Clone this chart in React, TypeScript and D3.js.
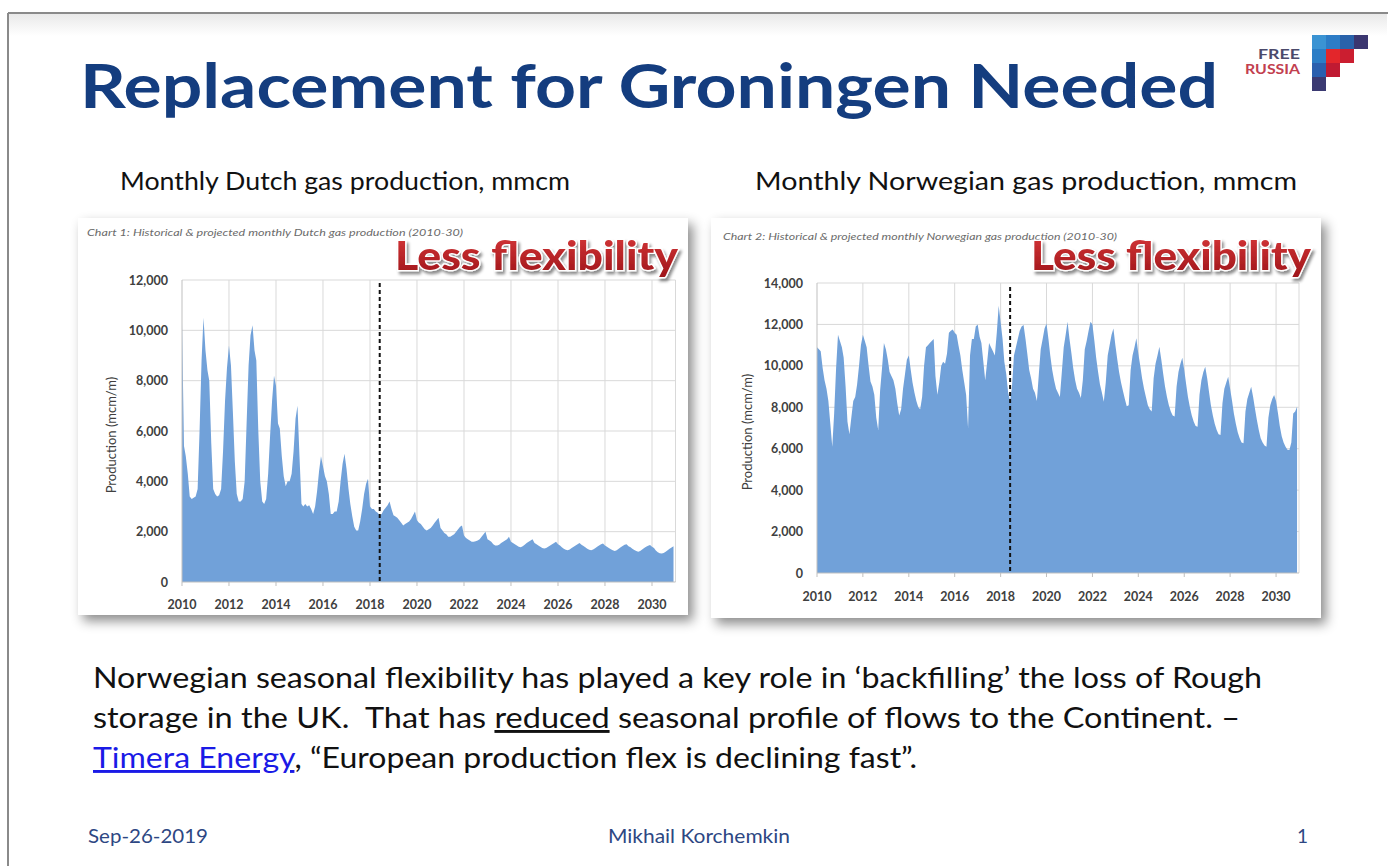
import React, { useEffect } from 'react';
import * as d3 from 'd3';

// ---------- DATA ----------
const START_YEAR = 2010;
const xTickYears = [2010, 2012, 2014, 2016, 2018, 2020, 2022, 2024, 2026, 2028, 2030];
const dutchYTicks = [0, 2000, 4000, 6000, 8000, 10000, 12000];
const norwegianYTicks = [0, 2000, 4000, 6000, 8000, 10000, 12000, 14000];
const forecastStart = { year: 2018, month: 5 }; // June 2018 (0-based month)

// Monthly Dutch gas production, mcm/m, Jan 2010 .. Dec 2030
const dutchMonthly = [
  10300, 5400, 5000, 4300, 3400, 3300, 3350, 3400, 3700, 6000, 8800, 10500, // 2010
  9200, 8400, 8000, 5500, 3700, 3500, 3400, 3450, 3700, 5200, 7200, 8500, // 2011
  9400, 8600, 6800, 4800, 3500, 3200, 3200, 3300, 4000, 6300, 8600, 9800, // 2012
  10200, 9200, 8800, 6000, 4000, 3200, 3100, 3300, 4300, 5800, 7200, 8200, // 2013
  7800, 6300, 6100, 5000, 4200, 3800, 4000, 4000, 4300, 5200, 6500, 7000, // 2014
  5000, 3100, 3000, 3100, 3000, 3050, 2900, 2700, 3000, 3600, 4400, 5000, // 2015
  4600, 4200, 4000, 3500, 2700, 2700, 2800, 2800, 3200, 4000, 4700, 5100, // 2016
  4500, 3700, 3100, 2600, 2200, 2050, 2050, 2400, 2900, 3500, 3900, 4100, // 2017
  3000, 2900, 2900, 2800, 2750, 2650, 2700, 2850, 2950, 3050, 3200, 2900, // 2018
  2650, 2600, 2550, 2450, 2350, 2250, 2300, 2350, 2400, 2500, 2650, 2800, // 2019
  2450, 2350, 2300, 2200, 2100, 2050, 2100, 2150, 2250, 2350, 2450, 2550, // 2020
  2150, 2050, 1950, 1900, 1800, 1800, 1850, 1900, 2000, 2100, 2200, 2250, // 2021
  1850, 1750, 1700, 1650, 1600, 1600, 1620, 1650, 1700, 1800, 1900, 2000, // 2022
  1700, 1650, 1600, 1500, 1450, 1450, 1480, 1550, 1600, 1650, 1700, 1800, // 2023
  1600, 1550, 1500, 1450, 1400, 1380, 1420, 1480, 1550, 1600, 1650, 1700, // 2024
  1550, 1500, 1450, 1400, 1350, 1330, 1350, 1400, 1450, 1500, 1550, 1600, // 2025
  1500, 1450, 1380, 1320, 1280, 1260, 1290, 1350, 1400, 1450, 1500, 1550, // 2026
  1480, 1430, 1380, 1320, 1280, 1260, 1290, 1340, 1400, 1450, 1500, 1530, // 2027
  1450, 1400, 1350, 1300, 1260, 1230, 1260, 1320, 1380, 1430, 1480, 1500, // 2028
  1420, 1380, 1320, 1270, 1230, 1200, 1230, 1290, 1350, 1400, 1440, 1470, // 2029
  1400, 1350, 1250, 1180, 1140, 1130, 1150, 1200, 1260, 1320, 1370, 1420, // 2030
];

// Monthly Norwegian gas production, mcm/m, Jan 2010 .. Dec 2030
const norwegianMonthly = [
  10900, 10800, 10700, 9900, 9300, 8900, 8300, 7200, 6100, 7700, 9900, 11500, // 2010
  11200, 10900, 10400, 9000, 7300, 6700, 7500, 8300, 8500, 9100, 10000, 11000, // 2011
  11500, 11200, 10900, 10000, 9250, 9000, 8600, 7500, 6900, 8800, 9900, 11100, // 2012
  10800, 10300, 9700, 9500, 9300, 8900, 8200, 7600, 7900, 8900, 9600, 10300, // 2013
  10500, 9800, 9200, 8700, 8300, 8000, 7900, 8500, 10000, 10900, 11000, 11100, // 2014
  11200, 11300, 9500, 8600, 9200, 10000, 10200, 10100, 10600, 11600, 11700, 11750, // 2015
  11600, 11500, 11000, 10500, 9800, 9200, 8600, 7000, 10500, 11300, 11300, 11900, // 2016
  12000, 11400, 11100, 10200, 9300, 10200, 11100, 10900, 10700, 10500, 11600, 12900, // 2017
  12100, 11300, 10200, 9600, 8700, 8300, 9000, 10500, 10900, 11300, 11700, 11900, // 2018
  11970, 11300, 10600, 9800, 9400, 8900, 8700, 8300, 9600, 10800, 11300, 11800, // 2019
  12050, 11300, 10500, 9800, 9300, 8900, 8700, 8500, 9700, 10900, 11500, 12130, // 2020
  11300, 10600, 9900, 9300, 8900, 8700, 8450, 9300, 10800, 11200, 11700, 12130, // 2021
  12000, 11200, 10400, 9700, 9100, 8700, 8270, 9200, 10500, 11000, 11500, 11800, // 2022
  11000, 10300, 9700, 9200, 8800, 8400, 8050, 8100, 9800, 10500, 10900, 11330, // 2023
  10600, 10000, 9400, 8900, 8500, 8100, 7900, 7800, 9400, 10100, 10500, 10920, // 2024
  10300, 9600, 9000, 8500, 8100, 7800, 7600, 7550, 9000, 9700, 10100, 10390, // 2025
  9800, 9100, 8500, 8000, 7600, 7300, 7100, 7060, 8600, 9300, 9700, 9960, // 2026
  9400, 8700, 8100, 7600, 7200, 6900, 6700, 6660, 8200, 8900, 9200, 9480, // 2027
  8900, 8300, 7700, 7200, 6800, 6500, 6300, 6260, 7800, 8400, 8700, 8990, // 2028
  8500, 7900, 7400, 6900, 6500, 6300, 6150, 6100, 7500, 8100, 8400, 8590, // 2029
  8300, 7700, 7100, 6600, 6300, 6100, 5950, 5940, 6300, 7700, 7800, 8030, // 2030
];

const titleText = 'Replacement for Groningen Needed';
const dutchSubtitle = 'Monthly Dutch gas production, mmcm';
const norSubtitle = 'Monthly Norwegian gas production, mmcm';
const dutchCaption = 'Chart 1: Historical & projected monthly Dutch gas production (2010-30)';
const norCaption = 'Chart 2: Historical & projected monthly Norwegian gas production (2010-30)';
const stampText = 'Less flexibility';
const yAxisTitle = 'Production (mcm/m)';

// ---------- HELPERS ----------
type Pt = { date: Date; v: number };
const toMonthly = (vals: number[]): Pt[] =>
  vals.map((v, i) => ({ date: new Date(START_YEAR + Math.floor(i / 12), i % 12, 1), v }));

const FONT = 'Lato, "Open Sans", sans-serif';
const fmt = d3.format(',');

interface ChartProps {
  card: { x: number; y: number; w: number; h: number };
  plot: { x0: number; x1: number; yTop: number; yBottom: number };
  values: number[];
  yTicks: number[];
  caption: string;
  captionPos: { x: number; y: number; len: number };
  stamp: { x: number; y: number; len: number };
  axisTitleX: number;
  xLabelY: number;
  dashTop: number;
}

function GasChart(p: ChartProps) {
  const { plot } = p;
  const x = d3
    .scaleTime()
    .domain([new Date(2010, 0, 1), new Date(2031, 0, 1)])
    .range([plot.x0, plot.x1]);
  const yMax = p.yTicks[p.yTicks.length - 1];
  const y = d3.scaleLinear().domain([0, yMax]).range([plot.yBottom, plot.yTop]);
  const data = toMonthly(p.values);
  const area = d3
    .area<Pt>()
    .x((d) => x(d.date))
    .y0(y(0))
    .y1((d) => y(d.v));
  const fx = x(new Date(forecastStart.year, forecastStart.month, 1));
  const gridColor = '#d9d9d9';
  return (
    <g>
      <rect x={p.card.x} y={p.card.y} width={p.card.w} height={p.card.h} fill="#fff" filter="url(#cardShadow)" />
      <text
        x={p.captionPos.x}
        y={p.captionPos.y}
        fontFamily={FONT}
        fontStyle="italic"
        fontSize={10}
        fill="#6b6b6b"
        textLength={p.captionPos.len}
        lengthAdjust="spacingAndGlyphs"
      >
        {p.caption}
      </text>
      {p.yTicks.slice(1).map((t) => (
        <line key={'h' + t} x1={plot.x0} x2={plot.x1} y1={y(t)} y2={y(t)} stroke={gridColor} strokeWidth={1} />
      ))}
      {xTickYears.slice(1).map((yr) => (
        <line
          key={'v' + yr}
          x1={x(new Date(yr, 0, 1))}
          x2={x(new Date(yr, 0, 1))}
          y1={plot.yTop}
          y2={plot.yBottom}
          stroke={gridColor}
          strokeWidth={1}
        />
      ))}
      <line x1={plot.x1} x2={plot.x1} y1={plot.yTop} y2={plot.yBottom} stroke={gridColor} strokeWidth={1} />
      <path d={area(data) || ''} fill="#71a1d9" />
      <line x1={plot.x0} x2={plot.x0} y1={plot.yTop} y2={plot.yBottom} stroke="#bfbfbf" strokeWidth={1} />
      <line x1={plot.x0} x2={plot.x1} y1={plot.yBottom} y2={plot.yBottom} stroke="#bfbfbf" strokeWidth={1} />
      {xTickYears.map((yr) => (
        <line
          key={'t' + yr}
          x1={x(new Date(yr, 0, 1))}
          x2={x(new Date(yr, 0, 1))}
          y1={plot.yBottom}
          y2={plot.yBottom + 4}
          stroke="#bfbfbf"
        />
      ))}
      <line x1={fx} x2={fx} y1={p.dashTop} y2={plot.yBottom} stroke="#111" strokeWidth={2} strokeDasharray="4,3" />
      {p.yTicks.map((t) => (
        <text
          key={'yl' + t}
          x={plot.x0 - 14}
          y={y(t) + 4.5}
          textAnchor="end"
          fontFamily={FONT}
          fontWeight={700}
          fontSize={12.5}
          fill="#404040"
        >
          {fmt(t)}
        </text>
      ))}
      {xTickYears.map((yr) => (
        <text
          key={'xl' + yr}
          x={x(new Date(yr, 0, 1))}
          y={p.xLabelY}
          textAnchor="middle"
          fontFamily={FONT}
          fontWeight={700}
          fontSize={12.5}
          fill="#404040"
        >
          {yr}
        </text>
      ))}
      <text
        transform={`translate(${p.axisTitleX},${(plot.yTop + plot.yBottom) / 2 + 4}) rotate(-90)`}
        textAnchor="middle"
        fontFamily={FONT}
        fontSize={13}
        fill="#404040"
      >
        {yAxisTitle}
      </text>
      <text
        x={p.stamp.x}
        y={p.stamp.y}
        fontFamily={FONT}
        fontWeight={900}
        fontSize={40}
        fill="url(#stampGrad)"
        stroke="#fff"
        strokeWidth={2.5}
        paintOrder="stroke"
        filter="url(#stampShadow)"
        textLength={p.stamp.len}
        lengthAdjust="spacingAndGlyphs"
      >
        {stampText}
      </text>
    </g>
  );
}

const logoSquares = [
  { c: 0, r: 0, f: '#3a93d3' },
  { c: 1, r: 0, f: '#2c7cc6' },
  { c: 2, r: 0, f: '#2962aa' },
  { c: 3, r: 0, f: '#3b3670' },
  { c: 0, r: 1, f: '#2b7dc6' },
  { c: 1, r: 1, f: '#e3262b' },
  { c: 2, r: 1, f: '#cb1e30' },
  { c: 0, r: 2, f: '#2a5fae' },
  { c: 1, r: 2, f: '#c01a32' },
  { c: 0, r: 3, f: '#3b3a72' },
];

export default function App() {
  useEffect(() => {
    document.body.style.margin = '0';
    document.body.style.overflow = 'hidden';
  }, []);
  const blue = '#143d7f';
  const footBlue = '#2d4783';
  return (
    <svg width={1395} height={866} style={{ position: 'absolute', left: 0, top: 0, background: '#fff' }}>
      <defs>
        <filter id="cardShadow" x="-10%" y="-10%" width="125%" height="125%">
          <feDropShadow dx="5" dy="6" stdDeviation="6" floodColor="#000" floodOpacity="0.45" />
        </filter>
        <filter id="stampShadow" x="-10%" y="-30%" width="120%" height="170%">
          <feDropShadow dx="2" dy="3" stdDeviation="1.5" floodColor="#000" floodOpacity="0.45" />
        </filter>
        <linearGradient id="stampGrad" x1="0" x2="0" y1="0" y2="1">
          <stop offset="0%" stopColor="#d8383a" />
          <stop offset="100%" stopColor="#9c1418" />
        </linearGradient>
        <linearGradient id="topGrad" x1="0" x2="0" y1="0" y2="1">
          <stop offset="0%" stopColor="#e9e9e9" />
          <stop offset="100%" stopColor="#ffffff" />
        </linearGradient>
      </defs>
      <rect x={9} y={14} width={1378} height={22} fill="url(#topGrad)" />
      <line x1={8} x2={1388} y1={13} y2={13} stroke="#8a8a8a" strokeWidth={2} />
      <line x1={8} x2={8} y1={13} y2={866} stroke="#8a8a8a" strokeWidth={2} />

      <text
        x={80}
        y={108}
        fontFamily={FONT}
        fontWeight={700}
        fontSize={62}
        fill={blue}
        textLength={1138}
        lengthAdjust="spacingAndGlyphs"
      >
        {titleText}
      </text>

      {/* logo */}
      <text x={1300} y={59} textAnchor="end" fontFamily={FONT} fontWeight={700} fontSize={13} fill="#4b4a6b" textLength={42} lengthAdjust="spacingAndGlyphs">
        FREE
      </text>
      <text x={1300} y={74} textAnchor="end" fontFamily={FONT} fontWeight={700} fontSize={13} fill="#c2404f" textLength={55} lengthAdjust="spacingAndGlyphs">
        RUSSIA
      </text>
      {logoSquares.map((s, i) => (
        <rect key={i} x={1312 + s.c * 14} y={35 + s.r * 14} width={14} height={14} fill={s.f} />
      ))}

      <text x={120} y={190} fontFamily={FONT} fontSize={25} fill="#111" textLength={450} lengthAdjust="spacingAndGlyphs">
        {dutchSubtitle}
      </text>
      <text x={755} y={190} fontFamily={FONT} fontSize={25} fill="#111" textLength={542} lengthAdjust="spacingAndGlyphs">
        {norSubtitle}
      </text>

      <GasChart
        card={{ x: 78, y: 218, w: 610, h: 397 }}
        plot={{ x0: 182, x1: 675.5, yTop: 280, yBottom: 582 }}
        values={dutchMonthly}
        yTicks={dutchYTicks}
        caption={dutchCaption}
        captionPos={{ x: 87, y: 236, len: 376 }}
        stamp={{ x: 395, y: 270, len: 283 }}
        axisTitleX={116}
        xLabelY={609}
        dashTop={283}
      />
      <GasChart
        card={{ x: 711, y: 218, w: 610, h: 400 }}
        plot={{ x0: 817, x1: 1299, yTop: 283, yBottom: 573 }}
        values={norwegianMonthly}
        yTicks={norwegianYTicks}
        caption={norCaption}
        captionPos={{ x: 723, y: 240, len: 394 }}
        stamp={{ x: 1031, y: 270, len: 280 }}
        axisTitleX={752}
        xLabelY={601}
        dashTop={287}
      />

      <g fontFamily={FONT} fontSize={29} fill="#111">
        <text x={93} y={688} textLength={1169} lengthAdjust="spacingAndGlyphs" xmlSpace="preserve" style={{ whiteSpace: 'pre' }}>
          Norwegian seasonal flexibility has played a key role in ‘backfilling’ the loss of Rough
        </text>
        <text x={93} y={728} textLength={1147} lengthAdjust="spacingAndGlyphs" xmlSpace="preserve" style={{ whiteSpace: 'pre' }}>
          {'storage in the UK.  That has '}
          <tspan style={{ textDecoration: 'underline' }}>reduced</tspan>
          {' seasonal profile of flows to the Continent. –'}
        </text>
        <text x={93} y={768} textLength={824} lengthAdjust="spacingAndGlyphs" xmlSpace="preserve" style={{ whiteSpace: 'pre' }}>
          <tspan fill="#1a1ae6" style={{ textDecoration: 'underline' }}>
            Timera Energy
          </tspan>
          {', “European production flex is declining fast”.'}
        </text>
      </g>

      <text x={88} y={843} fontFamily={FONT} fontSize={19} fill={footBlue} textLength={120} lengthAdjust="spacingAndGlyphs">
        Sep-26-2019
      </text>
      <text x={608} y={843} fontFamily={FONT} fontSize={19} fill={footBlue} textLength={182} lengthAdjust="spacingAndGlyphs">
        Mikhail Korchemkin
      </text>
      <text x={1297} y={843} fontFamily={FONT} fontSize={19} fill={footBlue}>
        1
      </text>
    </svg>
  );
}
